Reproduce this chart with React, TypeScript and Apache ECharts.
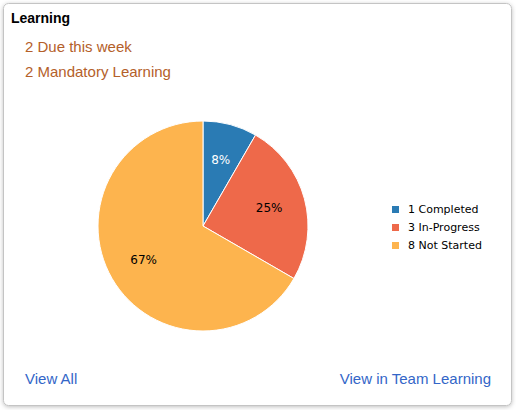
import React, { useEffect, useRef } from "react";
import * as echarts from "echarts";

const statuses = ["Completed", "In-Progress", "Not Started"];
const counts = [1, 3, 8];
const colors = ["#2a7bb4", "#ee694a", "#fdb44e"];
const labelColors = ["#ffffff", "#000000", "#000000"];
const headerLines = ["2 Due this week", "2 Mandatory Learning"];
const title = "Learning";
const linkLeft = "View All";
const linkRight = "View in Team Learning";

export default function App() {
  const ref = useRef<HTMLDivElement>(null);
  useEffect(() => {
    if (!ref.current) return;
    const chart = echarts.init(ref.current, undefined, { renderer: "svg" });
    const names = statuses.map((s, i) => `${counts[i]} ${s}`);
    const data = names.map((n, i) => ({ name: n, value: counts[i], itemStyle: { color: colors[i] } }));
    const labelData = names.map((n, i) => ({
      name: n,
      value: counts[i],
      label: { color: labelColors[i] },
    }));
    chart.setOption({
      animation: false,
      legend: {
        orient: "vertical",
        left: 390,
        top: 204,
        padding: 0,
        itemWidth: 9,
        itemHeight: 9,
        itemGap: 7,
        icon: "rect",
        selectedMode: false,
        textStyle: { fontFamily: "DejaVu Sans", fontSize: 11, color: "#000", padding: [0, 0, 0, 3] },
        data: names.map((n, i) => ({ name: n, itemStyle: { color: colors[i] } })),
      },
      series: [
        {
          type: "pie",
          center: [203, 226],
          radius: [0, 105],
          startAngle: 90,
          clockwise: true,
          label: { show: false },
          labelLine: { show: false },
          itemStyle: { borderColor: "#ffffff", borderWidth: 1 },
          emphasis: { disabled: true },
          data,
        },
        {
          type: "pie",
          center: [203, 226],
          radius: [26, 105],
          startAngle: 90,
          clockwise: true,
          silent: true,
          itemStyle: { color: "rgba(0,0,0,0)" },
          label: {
            show: true,
            position: "inside",
            fontFamily: "DejaVu Sans",
            fontSize: 12,
            formatter: (p: any) => `${Math.round(p.percent)}%`,
          },
          labelLine: { show: false },
          emphasis: { disabled: true },
          data: labelData,
        },
      ],
      graphic: [
        {
          type: "rect",
          z: -10,
          shape: { x: 3.5, y: 3.5, width: 508, height: 402, r: 5 },
          style: {
            fill: "#ffffff",
            stroke: "#c4c4c4",
            lineWidth: 1,
            shadowBlur: 4,
            shadowOffsetY: 1,
            shadowColor: "rgba(0,0,0,0.25)",
          },
        },
        {
          type: "text",
          x: 11,
          y: 18,
          style: {
            text: title,
            fontFamily: "Liberation Sans, Arial",
            fontWeight: "bold",
            fontSize: 14,
            fill: "#000000",
            verticalAlign: "middle",
          },
        },
        ...headerLines.map((t, i) => ({
          type: "text",
          x: 25,
          y: 46 + i * 25,
          style: {
            text: t,
            fontFamily: "Liberation Sans, Arial",
            fontSize: 15,
            fill: "#b4602a",
            verticalAlign: "middle",
          },
        })),
        {
          type: "text",
          x: 25,
          y: 378,
          style: {
            text: linkLeft,
            fontFamily: "Liberation Sans, Arial",
            fontSize: 15,
            fill: "#3366c8",
            verticalAlign: "middle",
          },
        },
        {
          type: "text",
          x: 491,
          y: 378,
          style: {
            text: linkRight,
            fontFamily: "Liberation Sans, Arial",
            fontSize: 15,
            fill: "#3366c8",
            align: "right",
            verticalAlign: "middle",
          },
        },
      ],
    });
    return () => chart.dispose();
  }, []);
  return (
    <div
      ref={ref}
      style={{ position: "fixed", left: 0, top: 0, width: 516, height: 410, background: "#ffffff" }}
    />
  );
}
